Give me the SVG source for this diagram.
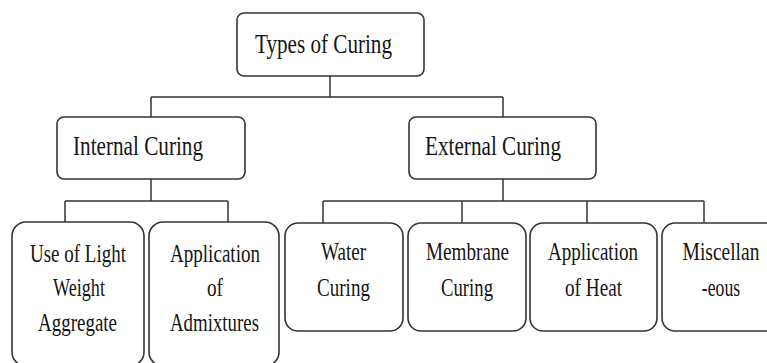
<svg xmlns="http://www.w3.org/2000/svg" width="767" height="363" viewBox="0 0 767 363">
<style>
.box{fill:#fff;stroke:#333;stroke-width:1.6}
.t{font-family:'Liberation Serif','Times New Roman','DejaVu Serif',serif;fill:#151515;text-anchor:middle}
.big{font-size:28px}
.sm{font-size:26px}
.conn line{stroke:#333;stroke-width:1.5}
</style>
<rect width="767" height="363" fill="#fff"/>
<g id="connectors" class="conn">
<line x1="330" y1="76" x2="330" y2="97"/>
<line x1="151" y1="97" x2="503" y2="97"/>
<line x1="151" y1="97" x2="151" y2="117"/>
<line x1="503" y1="97" x2="503" y2="117"/>
<line x1="151" y1="179" x2="151" y2="201"/>
<line x1="65" y1="201" x2="228" y2="201"/>
<line x1="65" y1="201" x2="65" y2="222"/>
<line x1="228" y1="201" x2="228" y2="222"/>
<line x1="503" y1="179" x2="503" y2="201"/>
<line x1="323" y1="201" x2="704" y2="201"/>
<line x1="323" y1="201" x2="323" y2="223"/>
<line x1="462" y1="201" x2="462" y2="223"/>
<line x1="587" y1="201" x2="587" y2="223"/>
<line x1="704" y1="201" x2="704" y2="223"/>
</g>
<g id="types">
<rect class="box" x="237" y="13" width="187" height="63" rx="7"/>
<text class="t big" x="323.5" y="53" textLength="137" lengthAdjust="spacingAndGlyphs">Types of Curing</text>
</g>
<g id="internal">
<rect class="box" x="57" y="117" width="188" height="62" rx="7"/>
<text class="t big" x="138" y="155" textLength="130" lengthAdjust="spacingAndGlyphs">Internal Curing</text>
</g>
<g id="external">
<rect class="box" x="409" y="117" width="187" height="62" rx="7"/>
<text class="t big" x="493" y="155" textLength="136" lengthAdjust="spacingAndGlyphs">External Curing</text>
</g>
<g id="lightweight">
<rect class="box" x="12" y="222" width="132" height="144" rx="14"/>
<text class="t sm" x="78" y="262" textLength="96" lengthAdjust="spacingAndGlyphs">Use of Light</text>
<text class="t sm" x="79" y="296" textLength="52" lengthAdjust="spacingAndGlyphs">Weight</text>
<text class="t sm" x="77.5" y="331" textLength="79" lengthAdjust="spacingAndGlyphs">Aggregate</text>
</g>
<g id="admixtures">
<rect class="box" x="149" y="222" width="130" height="144" rx="14"/>
<text class="t sm" x="215" y="262" textLength="90" lengthAdjust="spacingAndGlyphs">Application</text>
<text class="t sm" x="215" y="296" textLength="16" lengthAdjust="spacingAndGlyphs">of</text>
<text class="t sm" x="214.5" y="331" textLength="89" lengthAdjust="spacingAndGlyphs">Admixtures</text>
</g>
<g id="water">
<rect class="box" x="285" y="223" width="118" height="108" rx="13"/>
<text class="t sm" x="343.5" y="260" textLength="45" lengthAdjust="spacingAndGlyphs">Water</text>
<text class="t sm" x="343.5" y="296" textLength="53" lengthAdjust="spacingAndGlyphs">Curing</text>
</g>
<g id="membrane">
<rect class="box" x="408" y="223" width="118" height="108" rx="13"/>
<text class="t sm" x="467.5" y="260" textLength="83" lengthAdjust="spacingAndGlyphs">Membrane</text>
<text class="t sm" x="467" y="296" textLength="52" lengthAdjust="spacingAndGlyphs">Curing</text>
</g>
<g id="heat">
<rect class="box" x="530" y="223" width="127" height="108" rx="13"/>
<text class="t sm" x="593" y="260" textLength="90" lengthAdjust="spacingAndGlyphs">Application</text>
<text class="t sm" x="593.5" y="296" textLength="57" lengthAdjust="spacingAndGlyphs">of Heat</text>
</g>
<g id="misc">
<rect class="box" x="662" y="223" width="130" height="108" rx="13"/>
<text class="t sm" transform="translate(721,260) scale(0.75,1)">Miscellan</text>
<text class="t sm" transform="translate(721,296) scale(0.68,1)">-eous</text>
</g>
</svg>
